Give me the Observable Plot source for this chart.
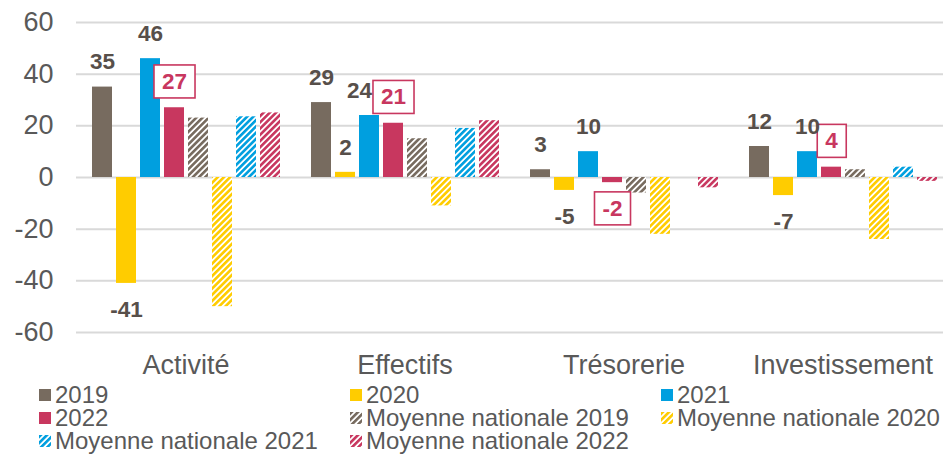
<!DOCTYPE html>
<html>
<head>
<meta charset="utf-8">
<script src="https://cdn.jsdelivr.net/npm/d3@7"></script>
<script src="https://cdn.jsdelivr.net/npm/@observablehq/plot@0.6"></script>
<style>
  html, body { margin: 0; padding: 0; background: #ffffff; overflow: hidden; }
  #wrap { position: relative; width: 943px; height: 454px; font-family: "Liberation Sans", Arial, sans-serif; }
  .lg { position: absolute; height: 22px; font-size: 24px; line-height: 22px; color: #595959; white-space: nowrap; }
  .lg span { display: inline-block; height: 22px; line-height: 22px; vertical-align: top; }
  .lg svg { position: absolute; left: -16px; top: 5px; }
</style>
</head>
<body>
<div id="wrap">
  <svg id="defs" width="0" height="0" style="position:absolute"><defs id="pdefs"></defs></svg>
  <div id="chart"></div>
  <div id="legend"></div>
</div>
<script>
const categories = ["Activité", "Effectifs", "Trésorerie", "Investissement"];
const series = ["2019", "2020", "2021", "2022",
  "Moyenne nationale 2019", "Moyenne nationale 2020", "Moyenne nationale 2021", "Moyenne nationale 2022"];
const v2019 = [35, 29, 3, 12];
const v2020 = [-41, 2, -5, -7];
const v2021 = [46, 24, 10, 10];
const v2022 = [27, 21, -2, 4];
const mn2019 = [23, 15, -6, 3];
const mn2020 = [-50, -11, -22, -24];
const mn2021 = [23.5, 19, 0, 4];
const mn2022 = [25, 22, -4, -1.5];
const yTicks = [-60, -40, -20, 0, 20, 40, 60];
const baseColors = ["#776B5F", "#FFCC00", "#009FDF", "#C8375F"];

const seriesValues = [v2019, v2020, v2021, v2022, mn2019, mn2020, mn2021, mn2022];

// hatch patterns
const pdefs = d3.select("#pdefs");
baseColors.forEach((c, i) => {
  const p = pdefs.append("pattern")
    .attr("id", "hatch" + i)
    .attr("patternUnits", "userSpaceOnUse")
    .attr("width", 4.4).attr("height", 4.4)
    .attr("patternTransform", "rotate(45)");
  p.append("rect").attr("width", 4.4).attr("height", 4.4).attr("fill", "#ffffff");
  p.append("rect").attr("width", 2.6).attr("height", 4.4).attr("fill", c);
});
const fills = [...baseColors, ...baseColors.map((c, i) => `url(#hatch${i})`)];

const data = [];
categories.forEach((cat, i) => {
  seriesValues.forEach((arr, j) => {
    data.push({cat, series: series[j], value: arr[i]});
  });
});
const plainLabels = data.filter(d => ["2019", "2020", "2021"].includes(d.series));
const boxLabels = data.filter(d => d.series === "2022");
// the 2021 label of "Effectifs" is nudged left in the reference (so it clears the 2022 box)
const isNudged = d => d.series === "2021" && d.cat === "Effectifs";

const labelStyle = {fx: "cat", x: "series", y: "value", text: d => String(d.value),
  fontWeight: "bold", fontSize: 22.5};

const chart = Plot.plot({
  width: 943,
  height: 384,
  marginLeft: 75,
  marginRight: -10,
  marginTop: 22,
  marginBottom: 52,
  style: {fontFamily: "'Liberation Sans', Arial, sans-serif", fontSize: "27px", color: "#595959", background: "transparent", overflow: "visible"},
  fx: {domain: categories, padding: 0, label: null, tickSize: 0, tickPadding: 22, axis: "bottom"},
  x: {domain: series, paddingInner: 0.18, paddingOuter: 0.59, axis: null},
  y: {domain: [-60, 60], ticks: yTicks, tickSize: 0, tickPadding: 23, label: null, tickFormat: d => String(d)},
  color: {domain: series, range: fills},
  marks: [
    Plot.ruleY(yTicks, {stroke: "#d9d9d9", strokeWidth: 2}),
    Plot.barY(data, {fx: "cat", x: "series", y: "value", fill: "series"}),
    Plot.text(boxLabels.filter(d => d.value >= 0), {...labelStyle, dy: -26, fill: "#C8375F", className: "boxlab"}),
    Plot.text(boxLabels.filter(d => d.value < 0), {...labelStyle, dy: 26, fill: "#C8375F", className: "boxlab"}),
    Plot.text(plainLabels.filter(d => d.value >= 0 && !isNudged(d)), {...labelStyle, dy: -25, fill: "#574f4a"}),
    Plot.text(plainLabels.filter(d => isNudged(d)), {...labelStyle, dy: -25, dx: -10, fill: "#574f4a"}),
    Plot.text(plainLabels.filter(d => d.value < 0), {...labelStyle, dy: 26, fill: "#574f4a"})
  ]
});
document.getElementById("chart").appendChild(chart);

// boxes behind 2022 labels (same transform as the text they frame)
d3.selectAll(".boxlab text").each(function() {
  const b = this.getBBox();
  const padX = 8, padY = 5;
  const r = d3.select(this.parentNode).insert("rect", () => this)
    .attr("x", b.x - padX).attr("y", b.y - padY + 1)
    .attr("width", b.width + 2 * padX).attr("height", b.height + 2 * padY - 2)
    .attr("fill", "#ffffff").attr("stroke", "#C8375F").attr("stroke-width", 1.6);
  const t = this.getAttribute("transform");
  if (t) r.attr("transform", t);
});

// legend
const legendPos = [
  [55, 384], [366, 384], [677, 384],
  [55, 407], [366, 407], [677, 407],
  [55, 430], [366, 430]
];
const legend = d3.select("#legend");
series.forEach((s, i) => {
  const [x, y] = legendPos[i];
  const item = legend.append("div").attr("class", "lg").style("left", x + "px").style("top", y + "px");
  const sw = item.append("svg").attr("width", 12).attr("height", 12);
  sw.append("rect").attr("width", 12).attr("height", 12).attr("fill", fills[i]);
  item.append("span").text(s);
});
</script>
</body>
</html>
